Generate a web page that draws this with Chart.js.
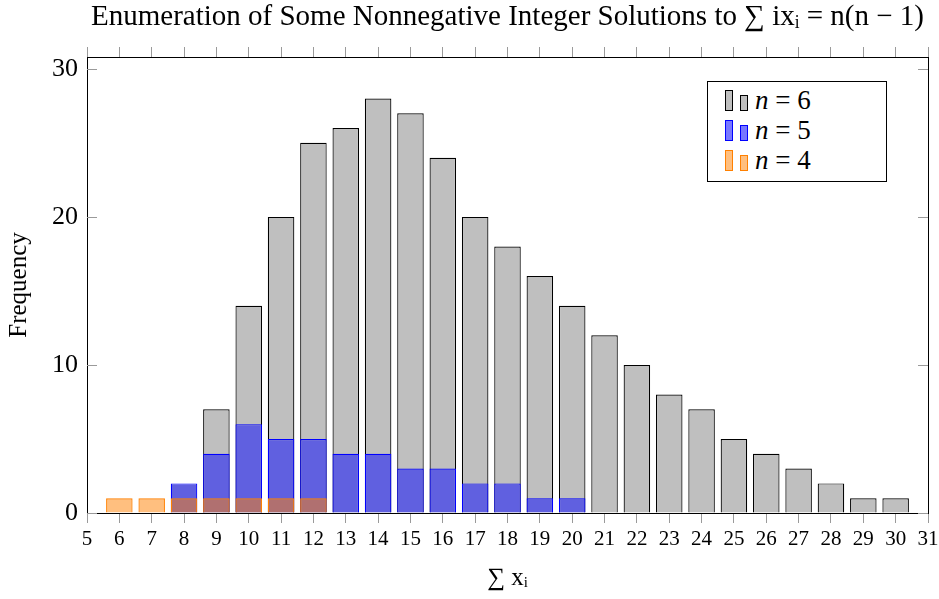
<!DOCTYPE html>
<html>
<head>
<meta charset="utf-8">
<script src="https://cdn.jsdelivr.net/npm/chart.js@4/dist/chart.umd.min.js"></script>
<style>
  html, body { margin: 0; padding: 0; background: #fff; }
  #wrap { position: relative; width: 939px; height: 599px; }
  #leyenda {
    position: absolute; left: 707px; top: 81px; width: 180px; height: 101px;
    border: 1px solid #000; background: #fff; box-sizing: border-box;
    font-family: 'Liberation Serif', serif; font-size: 27px; color: #000;
    padding-top: 3px;
  }
  .fila { height: 30px; display: flex; align-items: flex-end; padding-left: 17px; }
  .ico1 { width: 8px; height: 21px; margin-right: 7px; margin-bottom: 4px; }
  .ico2 { width: 8px; height: 16px; margin-right: 7px; margin-bottom: 4px; }
  .fila span { line-height: 30px; font-family: 'Liberation Serif', serif; }
</style>
</head>
<body>
<div id="wrap">
  <canvas id="grafico" width="939" height="599"></canvas>
  <div id="leyenda"></div>
</div>
<script>
// Datos: frecuencias por suma de x_i
const sumasN6 = [9, 10, 11, 12, 13, 14, 15, 16, 17, 18, 19, 20, 21, 22, 23, 24, 25, 26, 27, 28, 29, 30];
const frecN6  = [7, 14, 20, 25, 26, 28, 27, 24, 20, 18, 16, 14, 12, 10, 8, 7, 5, 4, 3, 2, 1, 1];

const sumasN5 = [8, 9, 10, 11, 12, 13, 14, 15, 16, 17, 18, 19, 20];
const frecN5  = [2, 4, 6, 5, 5, 4, 4, 3, 3, 2, 2, 1, 1];

const sumasN4 = [6, 7, 8, 9, 10, 11, 12];
const frecN4  = [1, 1, 1, 1, 1, 1, 1];

const etiquetas = ['6', '5', '4'];
const ticksY = [0, 10, 20, 30];
const tituloGrafico = 'Enumeration of Some Nonnegative Integer Solutions to \u2211 ix\u1D62 = n(n \u2212 1)';
const tituloX = '\u2211 x\u1D62';
const tituloY = 'Frequency';

const serif = "'Liberation Serif', 'DejaVu Serif', serif";

const series = [
    { n: etiquetas[0], xs: sumasN6, ys: frecN6, fondo: '#bfbfbf', borde: '#000000', icono: '#bfbfbf', orden: 3 },
    { n: etiquetas[1], xs: sumasN5, ys: frecN5, fondo: '#6060e0', borde: '#0000ff', icono: '#7878ff', orden: 2 },
    { n: etiquetas[2], xs: sumasN4, ys: frecN4, fondo: 'rgba(255,128,0,0.5)', borde: '#ff8000', icono: 'rgba(255,128,0,0.5)', orden: 1 }
];

// Ticks interiores en el eje Y (estilo pgfplots)
const ticksInternos = {
    id: 'ticksInternos',
    afterDatasetsDraw(chart) {
        const { ctx, chartArea, scales } = chart;
        ctx.save();
        ctx.strokeStyle = '#9a9a9a';
        ctx.lineWidth = 1;
        scales.y.ticks.forEach(t => {
            const py = Math.round(scales.y.getPixelForValue(t.value)) + 0.5;
            ctx.beginPath();
            ctx.moveTo(chartArea.left, py);
            ctx.lineTo(chartArea.left + 10, py);
            ctx.moveTo(chartArea.right, py);
            ctx.lineTo(chartArea.right - 10, py);
            ctx.stroke();
        });
        ctx.restore();
    }
};

const datasets = series.map(s => ({
    label: 'n = ' + s.n,
    data: s.xs.map((x, i) => ({ x: x, y: s.ys[i] })),
    backgroundColor: s.fondo,
    borderColor: s.borde,
    borderWidth: 1.2,
    borderSkipped: 'bottom',
    grouped: false,
    barPercentage: 0.82,
    categoryPercentage: 1,
    order: s.orden
}));

new Chart(document.getElementById('grafico'), {
    type: 'bar',
    data: { datasets: datasets },
    plugins: [ticksInternos],
    options: {
        responsive: false,
        animation: false,
        layout: { padding: 0 },
        plugins: {
            legend: { display: false },
            tooltip: { enabled: false },
            title: {
                display: true,
                text: tituloGrafico,
                fullSize: false,
                color: '#000',
                font: { family: serif, size: 29, weight: 'normal' },
                padding: { top: 0, bottom: 0 }
            }
        },
        scales: {
            x: {
                type: 'linear',
                position: 'bottom',
                min: 5,
                max: 31,
                offset: false,
                ticks: { stepSize: 1, color: '#000', font: { family: serif, size: 21 }, padding: 4, maxRotation: 0, autoSkip: false },
                grid: { offset: false, drawOnChartArea: false, color: '#9a9a9a', tickLength: 10 },
                border: { color: '#000', width: 1 },
                title: { display: true, text: tituloX, color: '#000', font: { family: serif, size: 25 }, padding: { top: 0, bottom: 6 } },
                afterFit: s => { s.height = 86; s.paddingLeft = 0; s.paddingRight = 0; }
            },
            xTop: {
                type: 'linear',
                position: 'top',
                min: 5,
                max: 31,
                offset: false,
                ticks: { stepSize: 1, display: false },
                grid: { offset: false, drawOnChartArea: false, color: '#9a9a9a', tickLength: 10 },
                border: { color: '#000', width: 1 },
                afterFit: s => { s.height = 57 - 34.8; s.paddingLeft = 0; s.paddingRight = 0; }
            },
            y: {
                min: 0,
                max: 30.8,
                afterBuildTicks: s => { s.ticks = ticksY.map(v => ({ value: v })); },
                ticks: { color: '#000', font: { family: serif, size: 26 }, padding: 9 },
                grid: { drawOnChartArea: false, drawTicks: false },
                border: { color: '#000', width: 1 },
                title: { display: true, text: tituloY, color: '#000', font: { family: serif, size: 25 }, padding: { top: 4, bottom: 0 } },
                afterFit: s => { s.width = 87; s.paddingTop = 0; s.paddingBottom = 0; }
            },
            yRight: {
                position: 'right',
                min: 0,
                max: 30.8,
                ticks: { display: false },
                grid: { drawOnChartArea: false, drawTicks: false },
                border: { color: '#000', width: 1 },
                afterFit: s => { s.width = 11; s.paddingTop = 0; s.paddingBottom = 0; }
            }
        }
    }
});

// Leyenda HTML
const leyenda = document.getElementById('leyenda');
series.forEach(s => {
    const fila = document.createElement('div');
    fila.className = 'fila';
    const estilo = `background:${s.icono};border:1px solid ${s.borde};box-sizing:border-box;`;
    fila.innerHTML = `<div class="ico1" style="${estilo}"></div><div class="ico2" style="${estilo}"></div><span><i>n</i> = ${s.n}</span>`;
    leyenda.appendChild(fila);
});
</script>
</body>
</html>
